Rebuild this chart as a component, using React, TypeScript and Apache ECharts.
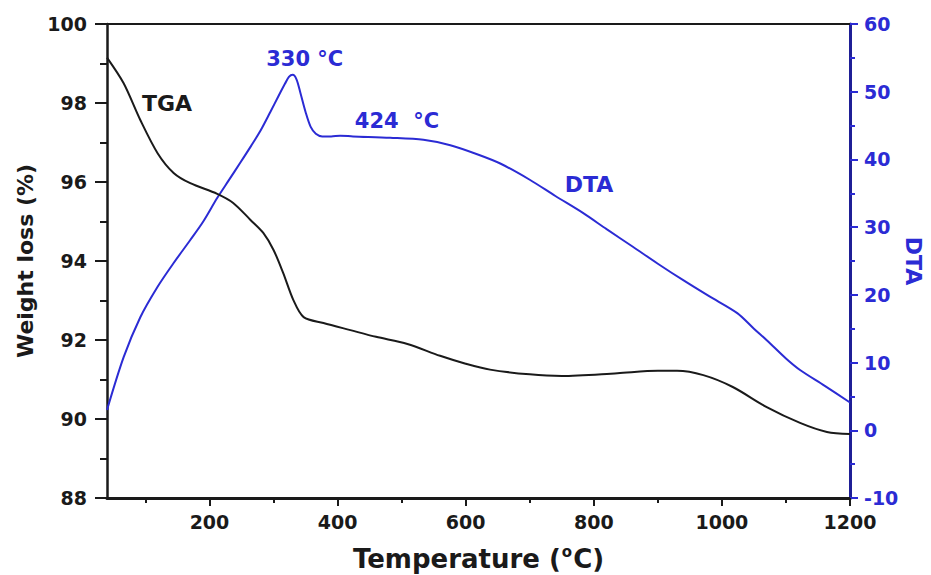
import React, { useEffect, useRef } from "react";
import * as echarts from "echarts";

// Temperature (°C) sampled along the TGA trace
const tgaTemp = [40, 66, 92, 119, 144, 170, 212, 237, 264, 284, 300, 315, 331, 347, 378, 420, 460, 509, 560, 600, 638, 700, 750, 837, 900, 930, 971, 1017, 1070, 1122, 1164, 1200];
// Remaining weight (%)
const tgaWeight = [99.15, 98.5, 97.57, 96.73, 96.23, 95.97, 95.7, 95.47, 95.04, 94.71, 94.28, 93.7, 93.01, 92.58, 92.43, 92.25, 92.08, 91.9, 91.6, 91.4, 91.25, 91.13, 91.09, 91.16, 91.22, 91.22, 91.11, 90.81, 90.3, 89.9, 89.67, 89.62];

// Temperature (°C) sampled along the DTA trace
const dtaTemp = [40, 66, 92, 119, 144, 170, 190, 212, 230, 248, 265, 280, 295, 308, 318, 324, 330, 336, 342, 350, 358, 366, 376, 390, 404, 424, 482, 534, 576, 620, 654, 700, 740, 783, 820, 861, 900, 939, 980, 1024, 1050, 1070, 1100, 1122, 1160, 1200];
// DTA signal
const dtaSignal = [3.0, 10.8, 16.7, 21.2, 24.7, 28.1, 30.8, 34.3, 36.9, 39.5, 42.0, 44.3, 47.0, 49.4, 51.2, 52.2, 52.5, 51.8, 49.8, 47.0, 44.8, 43.8, 43.4, 43.4, 43.5, 43.4, 43.2, 42.9, 42.1, 40.7, 39.4, 37.0, 34.6, 32.1, 29.7, 27.1, 24.6, 22.2, 19.8, 17.3, 15.0, 13.3, 10.6, 8.9, 6.6, 4.1];

// Axis tick values
const xMajorTicks = [200, 400, 600, 800, 1000, 1200];
const xMinorTicks = [100, 300, 500, 700, 900, 1100];

// Peak annotations on the DTA curve: [temperature, signal, label]
const dtaPeaks: [number, number, string][] = [
  [330, 52.5, "330 °C"],
  [424, 43.4, "424  °C"],
];

const FONT = "DejaVu Sans";
const BLACK = "#1a1a1a";
const BLUE = "#2b2bd4";
const NAVY = "#1f1f96";

export default function App() {
  const ref = useRef<HTMLDivElement>(null);

  useEffect(() => {
    if (!ref.current) return;
    const chart = echarts.init(ref.current, undefined, { renderer: "svg" });

    const tgaData = tgaTemp.map((t, i) => [t, tgaWeight[i]]);
    const dtaData = dtaTemp.map((t, i) => [t, dtaSignal[i]]);

    const peakOffsets: [number, number][] = [
      [12, -16],
      [44, -15],
    ];

    const plain = (v: number) => String(v);

    chart.setOption({
      animation: false,
      backgroundColor: "#ffffff",
      grid: {
        left: 107,
        right: 81,
        top: 24,
        bottom: 77,
        outerBoundsMode: "none",
        containLabel: false,
      },
      xAxis: [
        {
          type: "value",
          position: "bottom",
          min: 40,
          max: 1200,
          axisLine: { show: true, onZero: false, lineStyle: { color: BLACK, width: 3 } },
          axisTick: {
            show: true,
            customValues: xMajorTicks,
            length: 8,
            lineStyle: { color: BLACK, width: 2 },
          },
          axisLabel: {
            customValues: xMajorTicks,
            formatter: plain,
            margin: 14,
            color: BLACK,
            fontFamily: FONT,
            fontWeight: "bold",
            fontSize: 19,
          },
          splitLine: { show: false },
          name: "Temperature ({sup|o}C)",
          nameLocation: "middle",
          nameGap: 46,
          nameTextStyle: {
            color: BLACK,
            fontFamily: FONT,
            fontWeight: "bold",
            fontSize: 26,
            rich: {
              sup: {
                fontFamily: FONT,
                fontWeight: "bold",
                fontSize: 15,
                color: BLACK,
                verticalAlign: "top",
                padding: [0, 1, 14, 1],
              },
            },
          },
        },
        {
          type: "value",
          position: "bottom",
          min: 40,
          max: 1200,
          axisLine: { show: false, onZero: false },
          axisTick: {
            show: true,
            customValues: xMinorTicks,
            length: 5,
            lineStyle: { color: BLACK, width: 2 },
          },
          axisLabel: { show: false },
          splitLine: { show: false },
        },
        {
          type: "value",
          position: "top",
          min: 40,
          max: 1200,
          axisLine: { show: true, onZero: false, lineStyle: { color: BLACK, width: 2 } },
          axisTick: { show: false },
          axisLabel: { show: false },
          splitLine: { show: false },
        },
      ],
      yAxis: [
        {
          type: "value",
          position: "left",
          min: 88,
          max: 100,
          interval: 2,
          axisLine: { show: true, onZero: false, lineStyle: { color: BLACK, width: 2.5 } },
          axisTick: { show: true, length: 12, lineStyle: { color: BLACK, width: 2 } },
          minorTick: { show: true, splitNumber: 2, length: 7, lineStyle: { color: BLACK, width: 2 } },
          axisLabel: {
            formatter: plain,
            margin: 20,
            color: BLACK,
            fontFamily: FONT,
            fontWeight: "bold",
            fontSize: 19,
          },
          splitLine: { show: false },
          name: "Weight loss (%)",
          nameLocation: "middle",
          nameRotate: 90,
          nameGap: 66,
          nameTextStyle: {
            color: BLACK,
            fontFamily: FONT,
            fontWeight: "bold",
            fontSize: 22,
          },
        },
        {
          type: "value",
          position: "right",
          min: -10,
          max: 60,
          interval: 10,
          axisLine: { show: true, onZero: false, lineStyle: { color: NAVY, width: 3 } },
          axisTick: { show: true, length: 8, lineStyle: { color: BLUE, width: 2 } },
          minorTick: { show: true, splitNumber: 2, length: 5, lineStyle: { color: BLUE, width: 2 } },
          axisLabel: {
            formatter: plain,
            margin: 14,
            color: BLUE,
            fontFamily: FONT,
            fontWeight: "bold",
            fontSize: 19,
          },
          splitLine: { show: false },
          name: "DTA",
          nameLocation: "middle",
          nameRotate: -90,
          nameGap: 52,
          nameMoveOverlap: false,
          nameTextStyle: {
            color: BLUE,
            fontFamily: FONT,
            fontWeight: "bold",
            fontSize: 22,
          },
        },
      ],
      series: [
        {
          name: "TGA",
          type: "line",
          xAxisIndex: 0,
          yAxisIndex: 0,
          data: tgaData,
          smooth: 0.3,
          showSymbol: false,
          lineStyle: { color: BLACK, width: 2 },
          z: 3,
        },
        {
          name: "DTA",
          type: "line",
          xAxisIndex: 0,
          yAxisIndex: 1,
          data: dtaData,
          smooth: 0.3,
          showSymbol: false,
          lineStyle: { color: BLUE, width: 2 },
          z: 2,
          markPoint: {
            symbol: "circle",
            symbolSize: 0,
            silent: true,
            data: dtaPeaks.map(([t, v, text], i) => ({
              coord: [t, v],
              label: {
                show: true,
                position: "inside",
                formatter: text,
                offset: peakOffsets[i],
                color: BLUE,
                fontFamily: FONT,
                fontWeight: "bold",
                fontSize: 21,
              },
            })),
          },
        },
      ],
      graphic: [
        {
          type: "text",
          x: 167,
          y: 103,
          style: {
            text: "TGA",
            fill: BLACK,
            font: `bold 22px "${FONT}"`,
            textAlign: "center",
            textVerticalAlign: "middle",
          },
        },
        {
          type: "text",
          x: 589,
          y: 184,
          style: {
            text: "DTA",
            fill: BLUE,
            font: `bold 22px "${FONT}"`,
            textAlign: "center",
            textVerticalAlign: "middle",
          },
        },
      ],
    });

    return () => chart.dispose();
  }, []);

  return (
    <div
      ref={ref}
      style={{ position: "fixed", left: 0, top: 0, width: 931, height: 575, background: "#fff" }}
    />
  );
}
